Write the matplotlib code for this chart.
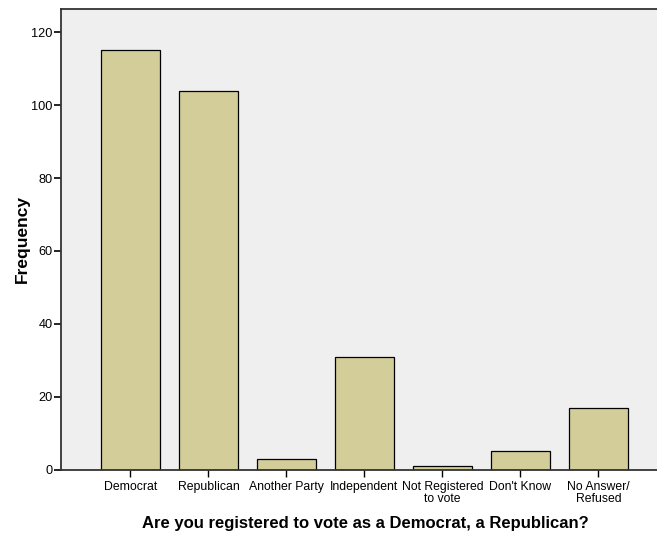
import matplotlib
matplotlib.use("Agg")
import matplotlib.pyplot as plt
import numpy as np

categories = ["Democrat", "Republican", "Another Party", "Independent",
              "Not Registered\nto vote", "Don't Know", "No Answer/\nRefused"]
counts = [115, 104, 3, 31, 1, 5, 17]
y_ticks = [0, 20, 40, 60, 80, 100, 120]

plt.rcParams['font.family'] = ['Liberation Sans', 'DejaVu Sans']

fig = plt.figure(figsize=(6.57, 5.36), dpi=100)
ax = fig.add_axes([0.0928, 0.124, 0.907, 0.8600])
ax.set_facecolor("#EFEFEF")

x = np.arange(len(categories))
ax.bar(x, counts, width=0.756, color="#D3CE99", edgecolor="black", linewidth=0.9, zorder=2)

ax.set_xlim(-0.89, 6.75)
ax.set_ylim(0, 126.5)
ax.set_yticks(y_ticks)
ax.set_xticks(x)
ax.set_xticklabels(categories, fontsize=8.8, linespacing=1.0)
ax.tick_params(axis='y', labelsize=9.2, length=5, width=1.2, direction='out', pad=1)
ax.tick_params(axis='x', length=5, width=1, direction='out', pad=3)

for side in ["left", "bottom", "top"]:
    ax.spines[side].set_linewidth(1.3)
    ax.spines[side].set_color("#333333")
ax.spines["right"].set_visible(False)

ax.set_ylabel("Frequency", fontsize=12.5, fontweight="bold", labelpad=1)
ax.set_xlabel("Are you registered to vote as a Democrat, a Republican?",
              fontsize=12, fontweight="bold", labelpad=7)
ax.xaxis.set_label_coords(0.51, -0.1)

fig.savefig("out.png", dpi=100)
